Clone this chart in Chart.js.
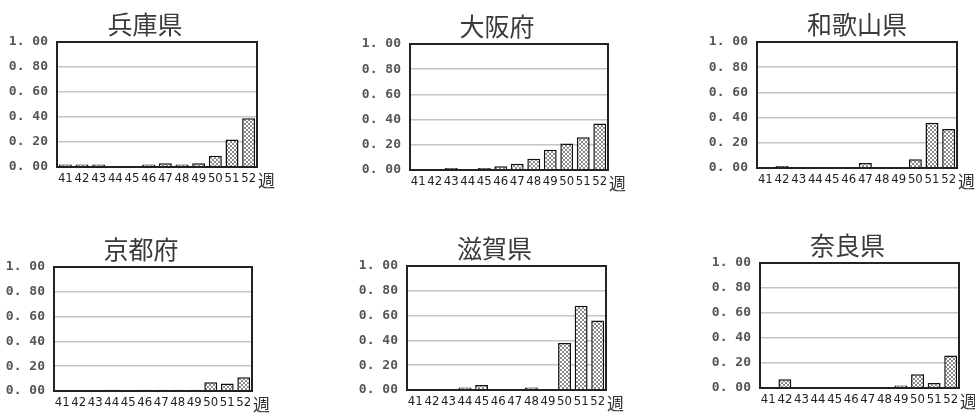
<!DOCTYPE html>
<html>
<head>
<meta charset="utf-8">
<script src="https://cdn.jsdelivr.net/npm/chart.js@4"></script>
<style>
    html, body { margin: 0; padding: 0; background: #fff; overflow: hidden; }
    body { width: 975px; height: 414px; position: relative; }
    canvas { position: absolute; }
</style>
</head>
<body>
<canvas id="c1"></canvas>
<canvas id="c2"></canvas>
<canvas id="c3"></canvas>
<canvas id="c4"></canvas>
<canvas id="c5"></canvas>
<canvas id="c6"></canvas>
<script>
// 週 (41-52)
const weeks = ["41", "42", "43", "44", "45", "46", "47", "48", "49", "50", "51", "52"];
const unitLabel = "週";
// y軸の目盛
const yTickLabels = ["0. 00", "0. 20", "0. 40", "0. 60", "0. 80", "1. 00"];

const prefNames = ["兵庫県", "大阪府", "和歌山県", "京都府", "滋賀県", "奈良県"];

const hyogo = [0.02, 0.02, 0.02, 0, 0, 0.02, 0.03, 0.02, 0.03, 0.09, 0.22, 0.39];
const osaka = [0, 0, 0.015, 0, 0.015, 0.03, 0.05, 0.09, 0.16, 0.21, 0.26, 0.37];
const wakayama = [0, 0.015, 0, 0, 0, 0, 0.04, 0, 0, 0.07, 0.36, 0.31];
const kyoto = [0, 0, 0, 0.01, 0, 0.01, 0.01, 0.01, 0.01, 0.07, 0.06, 0.11];
const shiga = [0, 0, 0, 0.02, 0.04, 0, 0, 0.02, 0, 0.38, 0.68, 0.56];
const nara = [0, 0.07, 0, 0, 0, 0, 0, 0, 0.02, 0.11, 0.04, 0.26];

const prefData = [hyogo, osaka, wakayama, kyoto, shiga, nara];

// canvas placement: left, top, width, height, title over full width or not
const panels = [
    { id: "c1", left: 5, top: 0, w: 280, h: 189, full: true },
    { id: "c2", left: 358, top: 2, w: 278, h: 190, full: true },
    { id: "c3", left: 705, top: 0, w: 280, h: 190, full: false },
    { id: "c4", left: 2, top: 225, w: 278, h: 188, full: true },
    { id: "c5", left: 355, top: 224, w: 279, h: 188, full: true },
    { id: "c6", left: 708, top: 221, w: 279, h: 189, full: true }
];

function makePattern() {
    const c = document.createElement("canvas");
    c.width = 4;
    c.height = 4;
    const g = c.getContext("2d");
    g.fillStyle = "#fff";
    g.fillRect(0, 0, 4, 4);
    g.fillStyle = "#8a8a8a";
    [[0, 0], [1, 1], [2, 2], [3, 3], [3, 0], [2, 1], [1, 2], [0, 3]].forEach(p => g.fillRect(p[0], p[1], 1, 1));
    return g.createPattern(c, "repeat");
}

// cadre noir + "週"
const framePlugin = {
    id: "frame",
    afterDatasetsDraw(chart) {
        const ctx = chart.ctx;
        const a = chart.chartArea;
        ctx.save();
        ctx.strokeStyle = "#222";
        ctx.lineWidth = 2;
        ctx.strokeRect(a.left, a.top, a.right - a.left, a.bottom - a.top);
        ctx.font = '17px "Noto Sans CJK JP"';
        ctx.fillStyle = "#333";
        ctx.textBaseline = "middle";
        ctx.fillText(unitLabel, a.right + 1, a.bottom + 14);
        ctx.restore();
    }
};

const pattern = makePattern();

panels.forEach((p, i) => {
    const cv = document.getElementById(p.id);
    cv.width = p.w;
    cv.height = p.h;
    cv.style.left = p.left + "px";
    cv.style.top = p.top + "px";

    new Chart(cv, {
        type: "bar",
        data: {
            labels: weeks,
            datasets: [{
                data: prefData[i],
                backgroundColor: pattern,
                borderColor: "#111",
                borderWidth: 1.5,
                barPercentage: 0.78,
                categoryPercentage: 1
            }]
        },
        options: {
            responsive: false,
            animation: false,
            plugins: {
                legend: { display: false },
                tooltip: { enabled: false },
                title: {
                    display: true,
                    text: prefNames[i],
                    fullSize: p.full,
                    color: "#3a3a3a",
                    font: { family: '"Noto Sans CJK JP"', size: 25, weight: "normal" },
                    padding: { top: 9, bottom: 3 }
                }
            },
            scales: {
                x: {
                    grid: { display: false, drawTicks: false },
                    border: { display: false },
                    ticks: {
                        autoSkip: false,
                        maxRotation: 0,
                        padding: 4,
                        color: "#222",
                        font: { family: '"DejaVu Sans Condensed"', size: 13 }
                    },
                    afterFit: s => { s.height = 22; }
                },
                y: {
                    min: 0,
                    max: 1,
                    grid: { color: "#c4c4c4", lineWidth: 1.5, drawTicks: false },
                    border: { display: false },
                    ticks: {
                        stepSize: 0.2,
                        padding: 9,
                        color: "#555",
                        font: { family: '"DejaVu Sans Mono"', size: 13, weight: "bold" },
                        callback: (v, idx) => yTickLabels[idx]
                    },
                    afterFit: s => { s.width = 52; }
                },
                // empty strip on the right for "週"
                yRight: {
                    position: "right",
                    grid: { display: false, drawTicks: false },
                    border: { display: false },
                    ticks: { display: false },
                    afterFit: s => { s.width = 28; }
                }
            }
        },
        plugins: [framePlugin]
    });
});
</script>
</body>
</html>
